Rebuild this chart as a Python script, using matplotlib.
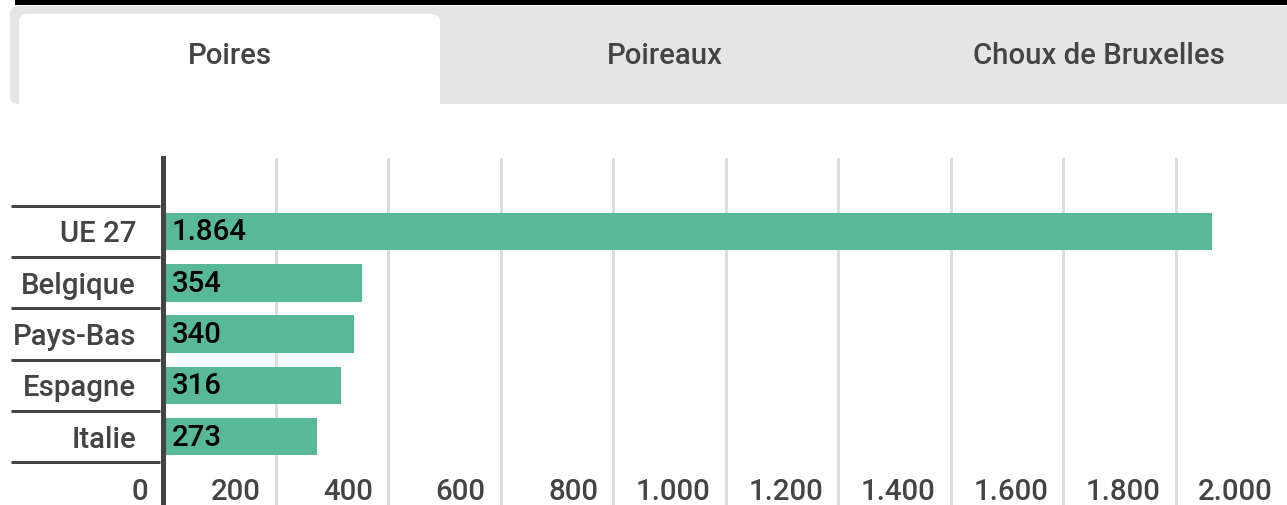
import matplotlib
matplotlib.use("Agg")
import matplotlib.pyplot as plt
from matplotlib.patches import Rectangle, FancyBboxPatch
from matplotlib import transforms

# ---- data ----
categories = ["UE 27", "Belgique", "Pays-Bas", "Espagne", "Italie"]
values = [1864, 354, 340, 316, 273]
tab_labels = ["Poires", "Poireaux", "Choux de Bruxelles"]
x_ticks = [0, 200, 400, 600, 800, 1000, 1200, 1400, 1600, 1800, 2000]


def fmt(v):
    return f"{v:,}".replace(",", ".")


plt.rcParams['font.family'] = ['Roboto', 'DejaVu Sans']
W, H = 1287, 505
fig = plt.figure(figsize=(W / 100, H / 100), dpi=100)
fig.patch.set_facecolor("white")

BAR = "#58b998"
DARK = "#444444"
GRID = "#dddddd"
PX = 0.72  # points per pixel
FS = 21.2

# ---- background (tabs) axes in pixel units ----
bg = fig.add_axes([0, 0, 1, 1], zorder=0)
bg.set_xlim(0, W)
bg.set_ylim(H, 0)
bg.axis("off")
bg.add_patch(Rectangle((15, 0), W - 15, 5, color="black", lw=0))
bg.add_patch(FancyBboxPatch((10, 6), W + 20, 98, boxstyle="round,pad=0,rounding_size=8",
                            fc="#e5e5e5", ec="none"))
bg.add_patch(FancyBboxPatch((19, 14), 421, 120, boxstyle="round,pad=0,rounding_size=8",
                            fc="white", ec="none"))
bg.add_patch(Rectangle((0, 104), W, 60, color="white", lw=0))
tab_centers = [230, 665, 1099]
for lab, cx in zip(tab_labels, tab_centers):
    bg.text(cx, 56, lab, ha="center", va="center", fontsize=FS, color=DARK,
            fontweight="medium")

# ---- main chart axes ----
ax_left, ax_top = 163, 158
ax = fig.add_axes([ax_left / W, 0, (W + 1 - ax_left) / W, (H - ax_top) / H], zorder=1)
ax.patch.set_alpha(0)
ax.set_xlim(0, 2000)
pitch = 51.3
c0 = 231.5
ax.set_ylim((H - c0) / pitch, (ax_top - c0) / pitch)

ypos = list(range(len(categories)))
ax.barh(ypos, values, height=0.73, color=BAR, zorder=2)

for y, v in zip(ypos, values):
    ax.annotate(fmt(v), (0, y), xytext=(9 * PX, -1 * PX), textcoords="offset points",
                ha="left", va="center", fontsize=FS, color="black",
                fontweight="medium", zorder=4)

ax.set_xticks(x_ticks)
ax.set_xticklabels([])
ax.tick_params(axis="x", length=0)
ax.grid(axis="x", color=GRID, linewidth=3 * PX, zorder=0)
ax.set_axisbelow(True)

ax.set_yticks(ypos)
ax.set_yticklabels(categories, fontsize=FS, color=DARK, fontweight="medium")
ax.tick_params(axis="y", length=0, pad=27 * PX)

for s in ["top", "right", "bottom"]:
    ax.spines[s].set_visible(False)
ax.spines["left"].set_color(DARK)
ax.spines["left"].set_linewidth(5 * PX)
ax.spines["left"].set_zorder(5)

# separators between category rows
sep_tr = transforms.blended_transform_factory(fig.transFigure, ax.transData)
for i in range(len(categories) + 1):
    ax.plot([11 / W, 160 / W], [i - 0.5, i - 0.5], transform=sep_tr, color=DARK,
            lw=3 * PX, clip_on=False, solid_capstyle="butt")

# x tick labels, right-aligned just left of each gridline
lab_tr = transforms.blended_transform_factory(ax.transData, fig.transFigure)
lab_tr = lab_tr + transforms.ScaledTranslation(-15 / 100, 0, fig.dpi_scale_trans)
for t in x_ticks:
    ax.text(t, 1 - 492 / H, fmt(t), transform=lab_tr, ha="right", va="center",
            fontsize=FS, color=DARK, fontweight="medium", clip_on=False)

fig.savefig("out.png", dpi=100)
